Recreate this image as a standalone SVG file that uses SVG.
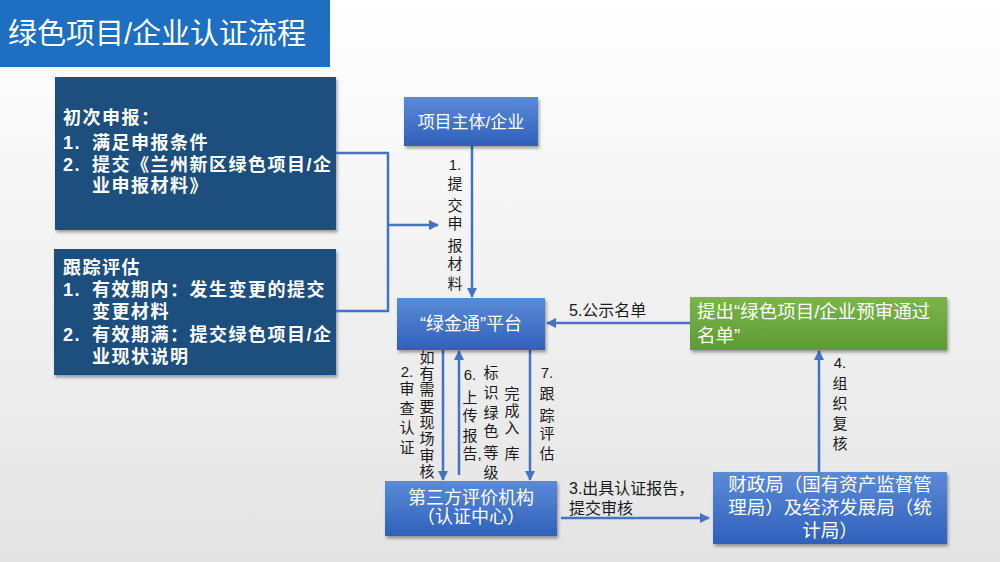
<svg xmlns="http://www.w3.org/2000/svg" width="1000" height="562" viewBox="0 0 1000 562">
<defs>
<linearGradient id="bg" x1="0" y1="0" x2="0" y2="1"><stop offset="0" stop-color="#ffffff"/><stop offset="1" stop-color="#e4e4e4"/></linearGradient>
<linearGradient id="blue" x1="0" y1="0" x2="0" y2="1"><stop offset="0" stop-color="#5b8bd6"/><stop offset="1" stop-color="#2f60bb"/></linearGradient>
<linearGradient id="green" x1="0" y1="0" x2="0" y2="1"><stop offset="0" stop-color="#7bb54c"/><stop offset="1" stop-color="#5e9b31"/></linearGradient>
<filter id="sh" x="-10%" y="-10%" width="120%" height="130%"><feDropShadow dx="1.5" dy="2.5" stdDeviation="1.5" flood-color="#000" flood-opacity="0.35"/></filter>
<marker id="ah" viewBox="0 0 10 10" refX="9" refY="5" markerWidth="4" markerHeight="4" orient="auto" markerUnits="strokeWidth"><path d="M0,0 L10,5 L0,10 z" fill="#4472c4"/></marker>
<style>
.t{font-family:"Liberation Sans","Noto Sans CJK SC",sans-serif;}
.w{fill:#ffffff;}
.k{fill:#1a1a1a;font-size:16px;}
.v{fill:#1a1a1a;font-size:15px;}
.lb{font-size:18px;font-weight:bold;fill:#ffffff;letter-spacing:1.5px;}
.c{stroke:#4472c4;stroke-width:2.5;fill:none;}
.ca{stroke:#4472c4;stroke-width:2.5;fill:none;marker-end:url(#ah);}
</style>
</defs>
<rect width="1000" height="562" fill="url(#bg)"/>
<g id="title">
<rect x="0" y="0" width="330" height="67" fill="#1e6fc1"/>
<text class="t w" x="8" y="44" font-size="29">绿色项目/企业认证流程</text>
</g>
<g id="box-initial">
<rect x="55" y="77" width="281" height="153" fill="#1c4f7e" filter="url(#sh)"/>
<text class="t lb" x="63" y="124">初次申报：</text>
<text class="t lb" x="63" y="149">1.</text><text class="t lb" x="92" y="149">满足申报条件</text>
<text class="t lb" x="63" y="171">2.</text><text class="t lb" x="92" y="171">提交《兰州新区绿色项目/企</text>
<text class="t lb" x="92" y="192">业申报材料》</text>
</g>
<g id="box-tracking">
<rect x="54" y="249" width="282" height="126" fill="#1c4f7e" filter="url(#sh)"/>
<text class="t lb" x="63" y="274">跟踪评估</text>
<text class="t lb" x="63" y="296">1.</text><text class="t lb" x="92" y="296">有效期内：发生变更的提交</text>
<text class="t lb" x="92" y="318">变更材料</text>
<text class="t lb" x="63" y="341">2.</text><text class="t lb" x="92" y="341">有效期满：提交绿色项目/企</text>
<text class="t lb" x="92" y="363">业现状说明</text>
</g>
<g id="connectors">
<path class="c" d="M336,153 H388 V311 H336"/>
<path class="ca" d="M388,225 H438"/>
<path class="ca" d="M472,146 V297"/>
<path class="ca" d="M690,323 H547"/>
<path class="ca" d="M819,472 V351"/>
<path class="ca" d="M561,518 H709"/>
<path class="ca" d="M443,350 V480"/>
<path class="ca" d="M459,475 V351"/>
<path class="ca" d="M530,350 V480"/>
</g>
<g id="labels">
<text class="t v" text-anchor="middle"><tspan x="455" y="170">1.</tspan><tspan x="455" y="189">提</tspan><tspan x="455" y="211">交</tspan><tspan x="455" y="229">申</tspan><tspan x="455" y="251">报</tspan><tspan x="455" y="269">材</tspan><tspan x="455" y="289">料</tspan></text>
<text class="t k" x="569" y="316">5.公示名单</text>
<text class="t v" text-anchor="middle"><tspan x="840" y="368">4.</tspan><tspan x="840" y="389">组</tspan><tspan x="840" y="409">织</tspan><tspan x="840" y="429">复</tspan><tspan x="840" y="449">核</tspan></text>
<text class="t k" x="569" y="494">3.出具认证报告，</text>
<text class="t k" x="569" y="514">提交审核</text>
<text class="t v" text-anchor="middle"><tspan x="407" y="377">2.</tspan><tspan x="407" y="394">审</tspan><tspan x="407" y="414">查</tspan><tspan x="407" y="433">认</tspan><tspan x="407" y="453">证</tspan></text>
<text class="t v" text-anchor="middle"><tspan x="427" y="363">如</tspan><tspan x="427" y="379">有</tspan><tspan x="427" y="395">需</tspan><tspan x="427" y="412">要</tspan><tspan x="427" y="428">现</tspan><tspan x="427" y="444">场</tspan><tspan x="427" y="461">审</tspan><tspan x="427" y="477">核</tspan></text>
<text class="t v" text-anchor="middle"><tspan x="470" y="380">6.</tspan><tspan x="470" y="403">上</tspan><tspan x="470" y="421">传</tspan><tspan x="470" y="441">报</tspan><tspan x="472" y="459">告,</tspan></text>
<text class="t v" text-anchor="middle"><tspan x="491" y="378">标</tspan><tspan x="491" y="398">识</tspan><tspan x="491" y="418">绿</tspan><tspan x="491" y="436">色</tspan><tspan x="491" y="458">等</tspan><tspan x="491" y="478">级</tspan></text>
<text class="t v" text-anchor="middle"><tspan x="512" y="399">完</tspan><tspan x="512" y="416">成</tspan><tspan x="512" y="433">入</tspan><tspan x="512" y="459">库</tspan></text>
<text class="t v" text-anchor="middle"><tspan x="547" y="378">7.</tspan><tspan x="547" y="399">跟</tspan><tspan x="547" y="421">踪</tspan><tspan x="547" y="439">评</tspan><tspan x="547" y="459">估</tspan></text>
</g>
<g id="node-project">
<rect x="404" y="97" width="134" height="49" fill="url(#blue)" filter="url(#sh)"/>
<text class="t w" x="471" y="128" font-size="17" text-anchor="middle">项目主体/企业</text>
</g>
<g id="node-platform">
<rect x="397" y="298" width="148" height="52" fill="url(#blue)" filter="url(#sh)"/>
<text class="t w" x="471" y="330" font-size="18" text-anchor="middle">“绿金通”平台</text>
</g>
<g id="node-list">
<rect x="690" y="297" width="257" height="53" fill="url(#green)" filter="url(#sh)"/>
<text class="t w" x="697" y="318" font-size="18.5">提出“绿色项目/企业预审通过</text>
<text class="t w" x="697" y="342" font-size="18.5">名单”</text>
</g>
<g id="node-finance">
<rect x="713" y="472" width="234" height="72" fill="url(#blue)" filter="url(#sh)"/>
<text class="t w" x="830" y="491" font-size="18.5" text-anchor="middle">财政局（国有资产监督管</text>
<text class="t w" x="830" y="514" font-size="18.5" text-anchor="middle">理局）及经济发展局（统</text>
<text class="t w" x="830" y="537" font-size="18.5" text-anchor="middle">计局）</text>
</g>
<g id="node-thirdparty">
<rect x="385" y="481" width="172" height="55" fill="url(#blue)" filter="url(#sh)"/>
<text class="t w" x="471" y="504" font-size="18" text-anchor="middle">第三方评价机构</text>
<text class="t w" x="471" y="523" font-size="18" text-anchor="middle">（认证中心）</text>
</g>
</svg>
